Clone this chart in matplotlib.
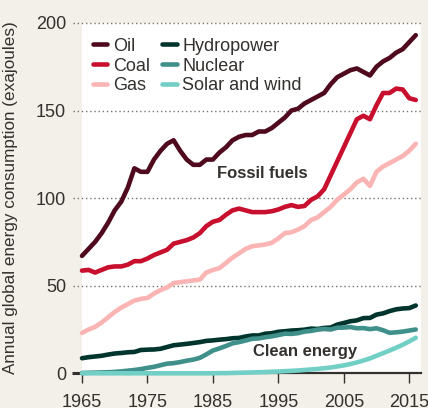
import matplotlib
matplotlib.use("Agg")
import matplotlib.pyplot as plt
import matplotlib.transforms as mtransforms

plt.rcParams['font.family'] = ['Liberation Sans', 'DejaVu Sans']

# Datos (exajulios por año)
years = list(range(1965, 2017))

oil = [67, 71, 75, 80, 86, 93, 98, 106, 117, 115,
       115, 122, 127, 131, 133, 127, 122, 119, 119, 122,
       122, 126, 129, 133, 135, 136, 136, 138, 138, 140,
       143, 146, 150, 151, 154, 156, 158, 160, 165, 169,
       171, 173, 174, 172, 170, 175, 178, 180, 183, 185,
       189, 193]

coal = [58.6, 59, 57.5, 59, 60.5, 61, 61, 62, 64, 64,
        65.5, 67.5, 69, 70.5, 74, 75, 76, 77.5, 80, 84,
        86.5, 87.5, 90.5, 93, 94, 93, 92, 92, 92, 92.5,
        93.5, 95, 96, 95, 95.5, 99, 101, 105, 113, 121,
        129, 137, 145, 147, 145, 153, 160, 160, 162.5, 162,
        157, 156]

gas = [23, 25, 26.5, 29, 32, 35, 37.5, 39.5, 41.5, 42.5,
       43, 45.5, 47.5, 49, 51.5, 52, 52.5, 53, 53.5, 57.5,
       59, 60, 63, 66, 68.5, 71, 72.5, 73, 73.5, 74.5,
       77, 80, 80.5, 82, 84, 87.5, 89, 92, 95, 99,
       102, 105, 109, 111, 107, 115, 118, 120, 122, 124,
       127, 131]

hydro = [8.6, 9.2, 9.6, 10, 10.7, 11.3, 11.6, 12, 12.2, 13.3,
         13.5, 13.6, 14, 15, 16, 16.4, 16.8, 17.3, 17.8, 18.5,
         18.8, 19.2, 19.5, 20, 20.2, 21, 21.6, 21.6, 22.6, 22.9,
         23.7, 24, 24.4, 24.6, 24.9, 25.5, 25.3, 25.9, 26.1, 27.8,
         28.7, 29.7, 30.2, 31.5, 31.6, 33.5, 34.2, 35.5, 36.5, 37,
         37.2, 38.7]

nuclear = [0.2, 0.3, 0.4, 0.5, 0.6, 0.8, 1.1, 1.5, 1.9, 2.4,
           3.1, 3.7, 4.6, 5.5, 5.8, 6.4, 7.2, 7.8, 8.8, 10.8,
           13.0, 14.2, 15.6, 17.1, 17.8, 18.7, 19.7, 19.9, 20.6, 21.1,
           21.8, 22.6, 22.5, 22.9, 23.8, 24.2, 24.9, 25.3, 25.0, 26.0,
           26.1, 26.4, 25.7, 25.8, 25.2, 25.7, 24.6, 23.1, 23.4, 23.8,
           24.4, 25.0]

solar_wind = [0, 0, 0, 0, 0, 0, 0, 0, 0, 0,
              0, 0, 0, 0, 0, 0, 0, 0, 0, 0,
              0, 0.1, 0.1, 0.2, 0.3, 0.4, 0.5, 0.6, 0.7, 0.9,
              1.0, 1.2, 1.4, 1.6, 1.9, 2.2, 2.5, 2.9, 3.3, 3.9,
              4.5, 5.3, 6.2, 7.3, 8.5, 10.0, 11.5, 13.0, 14.6, 16.3,
              18.2, 20.3]

series = [
    ("Oil", oil, "#4f0a1e"),
    ("Coal", coal, "#c8102e"),
    ("Gas", gas, "#fbb4b4"),
    ("Hydropower", hydro, "#00352e"),
    ("Nuclear", nuclear, "#3f908b"),
    ("Solar and wind", solar_wind, "#72cfc6"),
]

x_ticks = [1965, 1975, 1985, 1995, 2005, 2015]
y_ticks = [0, 50, 100, 150, 200]

texto = "#33302e"
fondo = "#f2f0e8"

fig = plt.figure(figsize=(4.28, 4.08), dpi=100, facecolor=fondo)
ax = fig.add_axes([82 / 428, 1 - 373.3 / 408, 339 / 428, 350.4 / 408])
ax.set_facecolor("white")

# Líneas de rejilla punteadas que salen un poco por la izquierda
for y in y_ticks[1:]:
    ax.axhline(y, xmin=-0.027, xmax=1, color="#77726d", lw=1.0,
               ls=(0, (1, 2)), clip_on=False, zorder=1)

# Marca del cero
trans = mtransforms.blended_transform_factory(ax.transAxes, ax.transData)
ax.plot([-0.03, 0], [0, 0], color=texto, lw=2.2, transform=trans,
        clip_on=False, zorder=3, solid_capstyle="butt")

for nombre, valores, color in series:
    ax.plot(years, valores, color=color, lw=3.3, label=nombre,
            clip_on=False, zorder=4, solid_capstyle="round",
            solid_joinstyle="round")

ax.set_xlim(1965, 2016.8)
ax.set_ylim(0, 200)

for lado in ["top", "right", "left"]:
    ax.spines[lado].set_visible(False)
ax.spines["bottom"].set_color(texto)
ax.spines["bottom"].set_linewidth(1.6)
ax.spines["bottom"].set_zorder(2)

ax.set_xticks(x_ticks)
ax.set_yticks(y_ticks)
ax.tick_params(axis="x", length=7.5, width=1.0, color=texto, pad=7.5,
               labelsize=13, labelcolor=texto)
ax.tick_params(axis="y", length=0, pad=11.5, labelsize=13, labelcolor=texto)

ax.set_ylabel("Annual global energy consumption (exajoules)", fontsize=12.3,
              color=texto)
ax.yaxis.set_label_coords(-0.19, 0.5)

ax.legend(loc="upper left", bbox_to_anchor=(0.032, 0.958), ncol=2,
          frameon=False, fontsize=13, handlelength=0.8, handletextpad=0.3,
          columnspacing=0.7, labelspacing=0.16, borderpad=0,
          borderaxespad=0, labelcolor=texto)

ax.text(1985.6, 113.8, "Fossil fuels", fontsize=12, fontweight="bold",
        color=texto, ha="left", va="center")
ax.text(1991.2, 12.3, "Clean energy", fontsize=12, fontweight="bold",
        color=texto, ha="left", va="center")

fig.savefig("out.png", dpi=100, facecolor=fondo)
